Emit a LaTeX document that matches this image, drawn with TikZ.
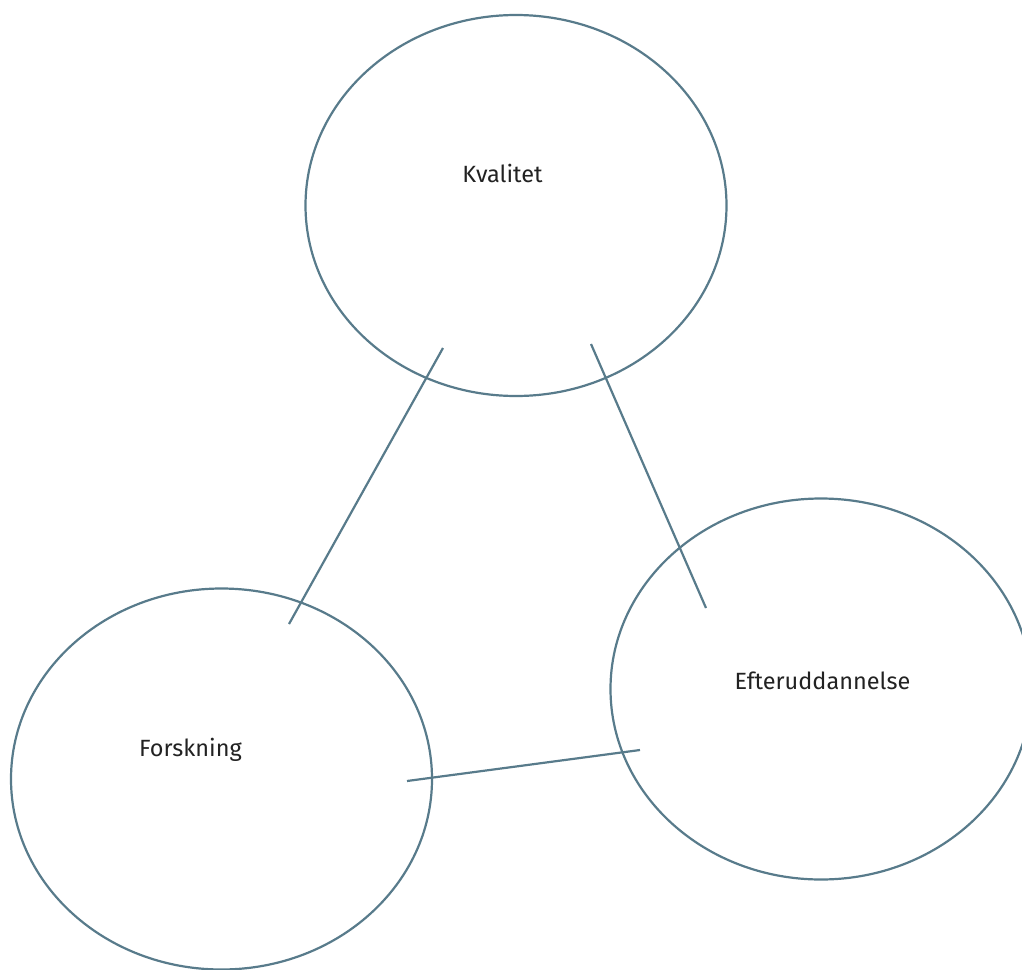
\documentclass[tikz,border=0pt]{standalone}
\usepackage{fontspec}
\setmainfont{Fira Sans}
\definecolor{edge}{HTML}{587B8B}
\definecolor{txt}{HTML}{222222}
\tikzset{
  blob/.style={draw=edge, line width=2.2pt, ellipse, minimum width=421pt, minimum height=381pt, inner sep=0pt},
  link/.style={draw=edge, line width=2.2pt},
  lbl/.style={text=txt, font=\fontsize{23.5}{28}\selectfont, inner sep=0pt}
}
\usetikzlibrary{shapes.geometric}
\begin{document}
\begin{tikzpicture}[x=1pt,y=-1pt]
\useasboundingbox (0,0) rectangle (1022,969);
\node[blob] (kv) at (516,205.5) {};
\node[blob] (fo) at (221.5,779) {};
\node[blob] (ef) at (821,689) {};
\node[lbl] (kvt) at (502.5,173) {Kvalitet};
\node[lbl] (fot) at (190.5,750) {Forskning};
\node[lbl] (eft) at (822.5,681) {Efteruddannelse};
\coordinate (a1) at (443,348);
\coordinate (a2) at (289,624);
\coordinate (b1) at (591,344);
\coordinate (b2) at (706,608);
\coordinate (c1) at (407,781);
\coordinate (c2) at (640,750);
\draw[link] (a1) -- (a2);
\draw[link] (b1) -- (b2);
\draw[link] (c1) -- (c2);
\end{tikzpicture}
\end{document}
